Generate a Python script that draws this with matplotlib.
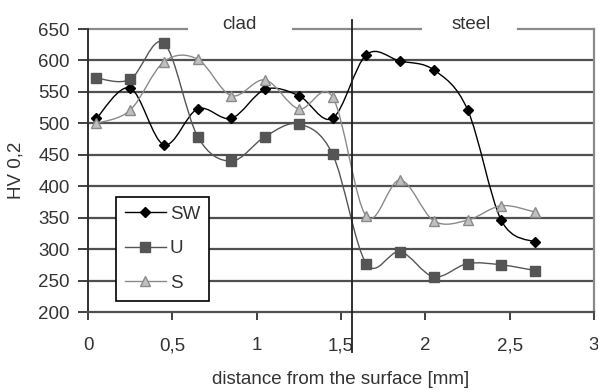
import numpy as np
import matplotlib
matplotlib.use('Agg')
import matplotlib.pyplot as plt
from matplotlib.path import Path
from matplotlib.patches import PathPatch
from matplotlib.lines import Line2D

plt.rcParams['font.family'] = ['Liberation Sans', 'DejaVu Sans']

# --- Data ---
depth = [0.05, 0.25, 0.45, 0.65, 0.85, 1.05, 1.25, 1.45, 1.65, 1.85, 2.05, 2.25, 2.45, 2.65]
hv_sw = [508, 556, 466, 523, 508, 554, 544, 508, 609, 599, 585, 522, 346, 311]
hv_u = [572, 570, 628, 479, 440, 479, 499, 451, 277, 296, 256, 277, 275, 266]
hv_s = [500, 521, 598, 602, 544, 569, 523, 542, 352, 410, 345, 346, 369, 359]
series_names = ['SW', 'U', 'S']
x_ticks = [0, 0.5, 1, 1.5, 2, 2.5, 3]
x_tick_labels = ['0', '0,5', '1', '1,5', '2', '2,5', '3']
y_ticks = list(range(200, 651, 50))
boundary = 1.565  # clad / steel interface


def smooth_path(x, y):
    # Excel-style smoothed line: cubic Bezier segments through the points
    pts = np.column_stack([x, y]).astype(float)
    n = len(pts)
    verts = [pts[0]]
    codes = [Path.MOVETO]
    for i in range(n - 1):
        p0 = pts[i - 1] if i > 0 else pts[i]
        p1 = pts[i]
        p2 = pts[i + 1]
        p3 = pts[i + 2] if i + 2 < n else pts[i + 1]
        c1 = p1 + (p2 - p0) / 6.0
        c2 = p2 - (p3 - p1) / 6.0
        verts += [c1, c2, p2]
        codes += [Path.CURVE4] * 3
    return Path(verts, codes)


fig = plt.figure(figsize=(5.98, 3.91), dpi=100)
ax = fig.add_axes([0.1472, 0.202, 0.8461, 0.7238])

ax.set_xlim(0, 3)
ax.set_ylim(200, 650)

# horizontal gridlines
for yv in y_ticks[1:-1]:
    ax.axhline(yv, color='#505050', lw=1.6, zorder=1)

styles = [
    dict(data=hv_sw, color='black', marker='D', mfc='black', mec='black', ms=5.5),
    dict(data=hv_u, color='#555555', marker='s', mfc='#555555', mec='#555555', ms=6.5),
    dict(data=hv_s, color='#8a8a8a', marker='^', mfc='#c0c0c0', mec='#8a8a8a', ms=7),
]

handles = []
for name, st in zip(series_names, styles):
    patch = PathPatch(smooth_path(depth, st['data']), fill=False,
                      edgecolor=st['color'], lw=1.0, zorder=3)
    ax.add_patch(patch)
    ax.plot(depth, st['data'], ls='none', marker=st['marker'],
            mfc=st['mfc'], mec=st['mec'], ms=st['ms'], zorder=4)
    handles.append(Line2D([], [], color=st['color'], lw=1.0, marker=st['marker'],
                          mfc=st['mfc'], mec=st['mec'], ms=st['ms']))

# interface line
ax.plot([boundary, boundary], [664, 136], color='#202020', lw=1.3,
        clip_on=False, zorder=5)

# spines
ax.spines['top'].set_visible(False)
ax.spines['right'].set_color('#8a8a8a')
ax.spines['right'].set_linewidth(1.6)
ax.spines['left'].set_color('#303030')
ax.spines['left'].set_linewidth(1.4)
ax.spines['bottom'].set_color('#505050')
ax.spines['bottom'].set_linewidth(1.6)

# top border broken by the labels
for x0, x1 in [(0, 0.1957), (0.405, 0.658), (0.85, 1.0)]:
    ax.axhline(650, xmin=x0, xmax=x1, color='#8a8a8a', lw=1.6,
               clip_on=False, zorder=2)
ax.text(0.90, 657, 'clad', ha='center', va='center', fontsize=13.5, color='#333333')
ax.text(2.27, 657, 'steel', ha='center', va='center', fontsize=13.5, color='#333333')

ax.set_xticks(x_ticks)
ax.set_xticklabels(x_tick_labels)
ax.set_yticks(y_ticks)
ax.tick_params(axis='x', direction='out', length=6, width=1.4, color='#404040',
               pad=12, labelsize=13.5, labelcolor='#333333')
ax.tick_params(axis='y', direction='out', length=7, width=1.4, color='#404040',
               pad=6, labelsize=13.5, labelcolor='#333333')

ax.set_xlabel('distance from the surface [mm]', fontsize=13.5, color='#333333', labelpad=12)
ax.set_ylabel('HV 0,2', fontsize=13.5, color='#333333', labelpad=10)

leg = ax.legend(handles, series_names, loc='upper left', bbox_to_anchor=(0.0547, 0.4074),
                borderaxespad=0, fancybox=False, edgecolor='black', framealpha=1,
                fontsize=13.5, handlelength=2.2, handletextpad=0.2, labelspacing=0.92,
                borderpad=0.48, labelcolor='#333333')
leg.get_frame().set_linewidth(1.2)
leg.set_zorder(6)

fig.savefig('out.png', dpi=100)
